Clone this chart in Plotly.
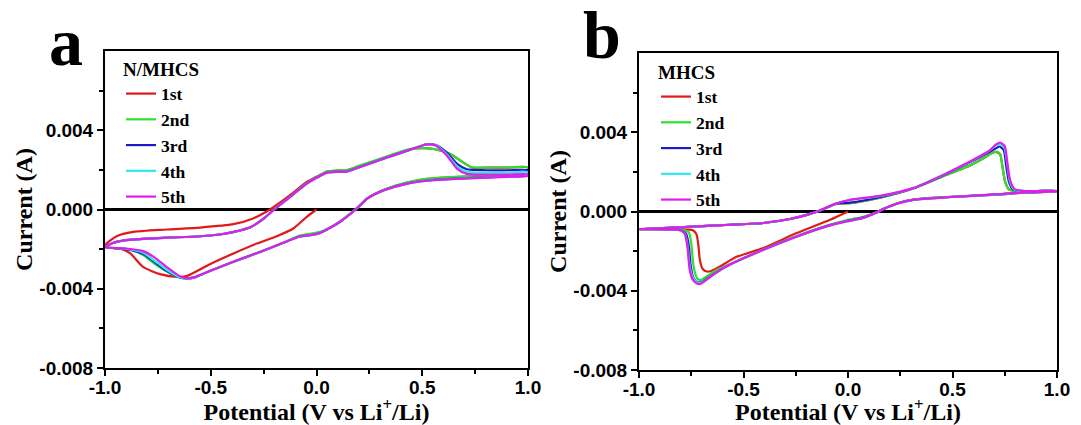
import plotly.graph_objects as go

# ---------------- data ----------------
CYCLE_NAMES = ["1st", "2nd", "3rd", "4th", "5th"]
CYCLE_COLORS = ["#e01a1a", "#2ee02e", "#1a1ac8", "#2ee8f0", "#e01ee8"]

X_TICK_VALS = [-1.0, -0.5, 0.0, 0.5, 1.0]
X_TICK_TEXT = ["-1.0", "-0.5", "0.0", "0.5", "1.0"]
X_MINOR_VALS = [-0.75, -0.25, 0.25, 0.75]
Y_TICK_VALS = [-0.008, -0.004, 0.0, 0.004]
Y_TICK_TEXT = ["-0.008", "-0.004", "0.000", "0.004"]
Y_MINOR_VALS = [-0.006, -0.002, 0.002, 0.006]

# ---- panel a : N/MHCS ----
A1_X = [0.0, -0.046, -0.11, -0.188, -0.283, -0.393, -0.504, -0.614, -0.66, -0.74, -0.82, -0.88, -0.93, -1.0,
        -1.0, -0.945, -0.866, -0.708, -0.551, -0.393, -0.3, -0.22, -0.125, -0.046, 0.0, 0.05, 0.1, 0.14, 0.2,
        0.32, 0.44, 0.5, 0.56, 0.63, 0.69, 0.735, 0.8, 0.9, 1.0,
        1.0, 0.9, 0.71, 0.55, 0.43, 0.32, 0.24, 0.19, 0.11, 0.06, 0.017]
A1_Y = [0.0, -0.00037, -0.00096, -0.00135, -0.00172, -0.00222, -0.00276, -0.00336, -0.0034, -0.00326, -0.0029,
        -0.00222, -0.00197, -0.0019,
        -0.0018, -0.00135, -0.00113, -0.00101, -0.00091, -0.00074, -0.00045, 0.0, 0.00072, 0.00139, 0.00165,
        0.00192, 0.00196, 0.00197, 0.00218, 0.0026, 0.00303, 0.0031, 0.00304, 0.00281, 0.0024, 0.00212,
        0.00211, 0.00211, 0.00212,
        0.00175, 0.00171, 0.00166, 0.00157, 0.00136, 0.00099, 0.00056, 0.00006, -0.00062, -0.00094, -0.00117]

A2_X = [-1.0, -0.96, -0.9, -0.8, -0.7, -0.55, -0.45, -0.39, -0.31, -0.25, -0.2, -0.125, -0.05, 0.0, 0.05, 0.1,
        0.14, 0.2, 0.32, 0.44, 0.5, 0.56, 0.63, 0.69, 0.735, 0.8, 0.9, 1.0,
        1.0, 0.9, 0.71, 0.55, 0.43, 0.32, 0.24, 0.19, 0.11, 0.06, 0.017, -0.03, -0.08, -0.157, -0.267, -0.393,
        -0.504, -0.57, -0.61, -0.65, -0.71, -0.77, -0.82, -0.88, -1.0]
A2_Y = [-0.0019, -0.00168, -0.00155, -0.00147, -0.00142, -0.00135, -0.00125, -0.00113, -0.00088, -0.00046, 0.0,
        0.00064, 0.0013, 0.00162, 0.00193, 0.00197, 0.00198, 0.0022, 0.00264, 0.00305, 0.0031, 0.00305,
        0.00282, 0.0024, 0.00213, 0.00212, 0.00212, 0.00213,
        0.00176, 0.00172, 0.00167, 0.00158, 0.00137, 0.001, 0.00056, 0.00006, -0.00062, -0.00093, -0.00113,
        -0.00122, -0.00132, -0.00168, -0.00214, -0.00264, -0.0031, -0.0034, -0.00348, -0.00343, -0.00312,
        -0.0027, -0.0023, -0.00202, -0.0019]

A3_X = [-1.0, -0.96, -0.9, -0.8, -0.7, -0.55, -0.45, -0.39, -0.31, -0.25, -0.2, -0.125, -0.05, 0.0, 0.05, 0.1,
        0.14, 0.2, 0.32, 0.44, 0.52, 0.565, 0.615, 0.665, 0.71, 0.8, 0.9, 1.0,
        1.0, 0.9, 0.71, 0.55, 0.43, 0.32, 0.24, 0.19, 0.11, 0.06, 0.017, -0.03, -0.08, -0.157, -0.267, -0.393,
        -0.504, -0.57, -0.61, -0.65, -0.71, -0.77, -0.82, -0.9, -1.0]
A3_Y = [-0.0019, -0.00168, -0.00155, -0.00147, -0.00142, -0.00135, -0.00125, -0.00113, -0.00088, -0.00046, 0.0,
        0.00064, 0.00128, 0.0016, 0.00187, 0.00191, 0.00191, 0.00213, 0.00258, 0.00301, 0.00329, 0.00325,
        0.00288, 0.0023, 0.00203, 0.00198, 0.00198, 0.00198,
        0.00173, 0.00167, 0.00158, 0.00149, 0.00132, 0.00098, 0.00055, 0.00005, -0.00063, -0.00095, -0.00118,
        -0.0013, -0.00136, -0.00168, -0.00214, -0.00264, -0.0031, -0.0034, -0.00348, -0.00342, -0.00308,
        -0.00262, -0.00224, -0.002, -0.0019]

A4_X = [-1.0, -0.96, -0.9, -0.8, -0.7, -0.55, -0.45, -0.39, -0.31, -0.25, -0.2, -0.125, -0.05, 0.0, 0.05, 0.1,
        0.14, 0.2, 0.32, 0.44, 0.52, 0.565, 0.615, 0.665, 0.71, 0.8, 0.9, 1.0,
        1.0, 0.9, 0.71, 0.55, 0.43, 0.32, 0.24, 0.19, 0.11, 0.06, 0.017, -0.03, -0.08, -0.157, -0.267, -0.393,
        -0.504, -0.57, -0.61, -0.65, -0.71, -0.77, -0.82, -0.9, -1.0]
A4_Y = [-0.0019, -0.00168, -0.00155, -0.00147, -0.00142, -0.00135, -0.00125, -0.00113, -0.00088, -0.00046, 0.0,
        0.00064, 0.00128, 0.0016, 0.00186, 0.0019, 0.0019, 0.00212, 0.00257, 0.003, 0.00328, 0.00324,
        0.0028, 0.00218, 0.0019, 0.00186, 0.00186, 0.00188,
        0.00172, 0.00166, 0.00157, 0.00148, 0.00131, 0.00097, 0.00055, 0.00005, -0.00063, -0.00095, -0.00118,
        -0.0013, -0.00136, -0.00168, -0.00214, -0.00264, -0.0031, -0.0034, -0.00348, -0.0034, -0.00303,
        -0.00255, -0.00218, -0.00198, -0.0019]

A5_X = [-1.0, -0.96, -0.9, -0.8, -0.7, -0.55, -0.45, -0.39, -0.31, -0.25, -0.2, -0.125, -0.05, 0.0, 0.05, 0.1,
        0.14, 0.2, 0.32, 0.44, 0.52, 0.565, 0.615, 0.665, 0.71, 0.8, 0.9, 1.0,
        1.0, 0.9, 0.71, 0.55, 0.43, 0.32, 0.24, 0.19, 0.11, 0.06, 0.017, -0.03, -0.08, -0.157, -0.267, -0.393,
        -0.504, -0.57, -0.61, -0.65, -0.71, -0.77, -0.82, -0.9, -1.0]
A5_Y = [-0.0019, -0.00168, -0.00155, -0.00147, -0.00142, -0.00135, -0.00125, -0.00113, -0.00088, -0.00046, 0.0,
        0.00064, 0.00128, 0.0016, 0.00186, 0.0019, 0.0019, 0.00212, 0.00257, 0.003, 0.00328, 0.00322,
        0.00274, 0.00205, 0.0018, 0.00176, 0.00176, 0.00178,
        0.0017, 0.00165, 0.00157, 0.00148, 0.00131, 0.00097, 0.00055, 0.00005, -0.00063, -0.00095, -0.00118,
        -0.0013, -0.00136, -0.00168, -0.00214, -0.00264, -0.0031, -0.0034, -0.00348, -0.00335, -0.00289,
        -0.00239, -0.0021, -0.00197, -0.0019]

# ---- panel b : MHCS ----
B1_X = [0.0, -0.086, -0.245, -0.405, -0.533, -0.612, -0.655, -0.675, -0.695, -0.708, -0.716, -0.725, -0.745,
        -0.8, -1.0,
        -1.0, -0.884, -0.724, -0.565, -0.405, -0.278, -0.197, -0.134, -0.054, 0.01, 0.153, 0.312, 0.472, 0.584,
        0.65, 0.69, 0.712, 0.728, 0.74, 0.752, 0.77, 0.8, 0.9, 1.0,
        1.0, 0.85, 0.711, 0.472, 0.312, 0.233, 0.169, 0.137, 0.073, 0.02]
B1_Y = [0.0, -0.00042, -0.00109, -0.00184, -0.00229, -0.00277, -0.003, -0.00303, -0.0029, -0.0025, -0.0017,
        -0.00115, -0.00094, -0.0009, -0.00089,
        -0.00089, -0.00084, -0.00075, -0.00067, -0.00058, -0.00038, -0.00017, 0.00005, 0.0004, 0.00042, 0.0007,
        0.00116, 0.00185, 0.00232, 0.0027, 0.00296, 0.003, 0.00288, 0.0022, 0.0015, 0.00112, 0.00104, 0.00103,
        0.00104,
        0.00102, 0.00096, 0.00086, 0.00073, 0.0006, 0.0004, 0.00013, -0.00004, -0.00028, -0.0004]

B2_X = [-1.0, -0.884, -0.724, -0.565, -0.405, -0.278, -0.197, -0.134, -0.054, 0.01, 0.153, 0.312, 0.472, 0.584,
        0.65, 0.69, 0.712, 0.728, 0.74, 0.752, 0.77, 0.8, 0.9, 1.0,
        1.0, 0.85, 0.711, 0.472, 0.312, 0.233, 0.169, 0.137, 0.073, -0.007, -0.086, -0.245, -0.405, -0.565,
        -0.644, -0.69, -0.705, -0.72, -0.732, -0.742, -0.75, -0.762, -0.79, -1.0]
B2_Y = [-0.00089, -0.00084, -0.00075, -0.00067, -0.00058, -0.00038, -0.00017, 0.00005, 0.0004, 0.00042, 0.0007,
        0.00116, 0.00185, 0.00232, 0.0027, 0.00296, 0.00302, 0.0029, 0.0022, 0.0015, 0.00112, 0.00104, 0.00103,
        0.00104,
        0.00102, 0.00096, 0.00086, 0.00073, 0.0006, 0.0004, 0.00013, -0.00004, -0.00028, -0.00044, -0.00066,
        -0.00124, -0.00192, -0.00266, -0.00305, -0.00338, -0.00345, -0.0034, -0.0031, -0.0025, -0.0016,
        -0.00105, -0.00092, -0.00089]

B3_X = [-1.0, -0.884, -0.724, -0.565, -0.405, -0.278, -0.197, -0.134, -0.054, 0.01, 0.153, 0.312, 0.472, 0.584,
        0.65, 0.68, 0.71, 0.725, 0.745, 0.757, 0.77, 0.79, 0.83, 0.9, 1.0,
        1.0, 0.85, 0.711, 0.472, 0.312, 0.233, 0.169, 0.137, 0.073, -0.007, -0.086, -0.245, -0.405, -0.565,
        -0.644, -0.69, -0.708, -0.725, -0.742, -0.753, -0.762, -0.775, -0.795, -0.836, -1.0]
B3_Y = [-0.00089, -0.00084, -0.00075, -0.00067, -0.00058, -0.00038, -0.00017, 0.00005, 0.00041, 0.00045,
        0.00072, 0.00117, 0.00191, 0.00248, 0.00285, 0.00303, 0.0032, 0.00328, 0.0031, 0.0023, 0.0015, 0.0011,
        0.00104, 0.00103, 0.00104,
        0.00102, 0.00096, 0.00085, 0.00072, 0.00059, 0.00039, 0.00012, -0.00005, -0.00031, -0.00048, -0.00069,
        -0.00126, -0.00193, -0.00268, -0.00316, -0.0035, -0.00358, -0.00354, -0.0033, -0.0027, -0.0017,
        -0.00112, -0.00096, -0.0009, -0.00089]

B4_X = [-1.0, -0.884, -0.724, -0.565, -0.405, -0.278, -0.197, -0.134, -0.054, 0.01, 0.153, 0.312, 0.472, 0.584,
        0.65, 0.68, 0.71, 0.728, 0.748, 0.762, 0.775, 0.795, 0.83, 0.9, 1.0,
        1.0, 0.85, 0.711, 0.472, 0.312, 0.233, 0.169, 0.137, 0.073, -0.007, -0.086, -0.245, -0.405, -0.565,
        -0.644, -0.69, -0.708, -0.725, -0.745, -0.758, -0.768, -0.78, -0.795, -0.836, -1.0]
B4_Y = [-0.00089, -0.00084, -0.00075, -0.00067, -0.00058, -0.00038, -0.00017, 0.00005, 0.00042, 0.00058,
        0.00078, 0.00118, 0.00193, 0.00251, 0.0029, 0.0031, 0.00335, 0.0034, 0.00322, 0.0024, 0.0015, 0.0011,
        0.00104, 0.00103, 0.00104,
        0.00102, 0.00096, 0.00085, 0.00072, 0.00059, 0.00039, 0.00012, -0.00005, -0.00033, -0.0005, -0.0007,
        -0.00126, -0.00193, -0.00268, -0.00318, -0.00353, -0.0036, -0.00356, -0.0033, -0.0027, -0.0017,
        -0.00113, -0.00097, -0.0009, -0.00089]

B5_X = [-1.0, -0.884, -0.724, -0.565, -0.405, -0.278, -0.197, -0.134, -0.054, 0.01, 0.153, 0.312, 0.472, 0.584,
        0.65, 0.68, 0.71, 0.73, 0.75, 0.762, 0.775, 0.795, 0.83, 0.9, 1.0,
        1.0, 0.85, 0.711, 0.472, 0.312, 0.233, 0.169, 0.137, 0.073, -0.007, -0.086, -0.245, -0.405, -0.565,
        -0.644, -0.69, -0.708, -0.725, -0.745, -0.758, -0.768, -0.78, -0.795, -0.836, -1.0]
B5_Y = [-0.00089, -0.00084, -0.00075, -0.00067, -0.00058, -0.00038, -0.00017, 0.00005, 0.00042, 0.00059,
        0.00079, 0.00118, 0.00193, 0.00252, 0.0029, 0.0031, 0.0034, 0.00347, 0.0033, 0.0025, 0.0016, 0.00115,
        0.00104, 0.00103, 0.00104,
        0.00102, 0.00096, 0.00086, 0.00072, 0.00059, 0.00039, 0.00012, -0.00005, -0.00033, -0.0005, -0.0007,
        -0.00126, -0.00193, -0.00268, -0.00318, -0.00355, -0.00366, -0.00362, -0.0034, -0.0029, -0.0018,
        -0.00115, -0.00097, -0.0009, -0.00089]

PANEL_A = [(A1_X, A1_Y), (A2_X, A2_Y), (A3_X, A3_Y), (A4_X, A4_Y), (A5_X, A5_Y)]
PANEL_B = [(B1_X, B1_Y), (B2_X, B2_Y), (B3_X, B3_Y), (B4_X, B4_Y), (B5_X, B5_Y)]

# ---------------- figure ----------------
# The page body keeps its default 8 px margin, so the figure is drawn 8 px in
# from the window's top-left corner; size and positions compensate for that.
OFF = 8
W, H = 1081 - OFF, 425 - OFF
SERIF = "Liberation Serif"
SANS = "Liberation Sans"

fig = go.Figure()
for panel, xa, ya, leg in [(PANEL_A, "x", "y", "legend"), (PANEL_B, "x2", "y2", "legend2")]:
    for (xs, ys), name, color in zip(panel, CYCLE_NAMES, CYCLE_COLORS):
        fig.add_trace(go.Scatter(
            x=xs, y=ys, mode="lines", name=name, xaxis=xa, yaxis=ya, legend=leg,
            line=dict(color=color, width=2.2, shape="spline", smoothing=0.6),
            hoverinfo="skip"))


def px_x(p):
    return (p - OFF) / W


def px_y(p):
    return 1 - (p - OFF) / H


tick_font = dict(family=SANS, size=19, color="black", weight="bold")
title_font = dict(family=SERIF, size=24, color="black", weight="bold")

common_x = dict(
    range=[-1.0, 1.0], tickvals=X_TICK_VALS, ticktext=X_TICK_TEXT, automargin=False,
    showline=True, linecolor="black", linewidth=2, mirror=True,
    ticks="outside", ticklen=6, tickwidth=2, tickcolor="black", ticklabelstandoff=-5,
    minor=dict(tickvals=X_MINOR_VALS, ticks="outside", ticklen=4, tickwidth=1.5, tickcolor="black"),
    tickfont=tick_font, showgrid=False, zeroline=False,
    title=dict(text="Potential (V vs Li<sup>+</sup>/Li)", font=title_font, standoff=0),
)
common_y = dict(
    range=[-0.008, 0.008], tickvals=Y_TICK_VALS, ticktext=Y_TICK_TEXT, automargin=False,
    showline=True, linecolor="black", linewidth=2, mirror=True,
    ticks="outside", ticklen=6, tickwidth=2, tickcolor="black",
    minor=dict(tickvals=Y_MINOR_VALS, ticks="outside", ticklen=4, tickwidth=1.5, tickcolor="black"),
    tickfont=tick_font, showgrid=False,
    zeroline=True, zerolinecolor="black", zerolinewidth=2.5,
    title=dict(text="Current (A)", font=title_font, standoff=0),
)

legend_common = dict(
    xanchor="left", yanchor="top", bgcolor="rgba(0,0,0,0)", borderwidth=0,
    font=dict(family=SERIF, size=17.5, color="black", weight="bold"),
    tracegroupgap=0, itemwidth=30,
)
legend_title_font = dict(family=SERIF, size=19, color="black", weight="bold")

fig.update_layout(
    width=W, height=H,
    margin=dict(l=0, r=0, t=0, b=0),
    paper_bgcolor="white", plot_bgcolor="white",
    xaxis=dict(domain=[px_x(105), px_x(528)], anchor="y", **common_x),
    yaxis=dict(domain=[px_y(368), px_y(51)], anchor="x", **common_y),
    xaxis2=dict(domain=[px_x(639), px_x(1057)], anchor="y2", **common_x),
    yaxis2=dict(domain=[px_y(370), px_y(53)], anchor="x2", **common_y),
    legend=dict(x=px_x(121), y=px_y(51),
                title=dict(text="N/MHCS", font=legend_title_font), **legend_common),
    legend2=dict(x=px_x(656), y=px_y(54),
                 title=dict(text="MHCS", font=legend_title_font), **legend_common),
    annotations=[
        dict(text="a", x=px_x(66), y=px_y(42), xref="paper", yref="paper", showarrow=False,
             xanchor="center", yanchor="middle",
             font=dict(family=SERIF, size=68, color="black", weight="bold")),
        dict(text="b", x=px_x(602), y=px_y(35), xref="paper", yref="paper", showarrow=False,
             xanchor="center", yanchor="middle",
             font=dict(family=SERIF, size=68, color="black", weight="bold")),
    ],
)

fig.write_html("out.html")
